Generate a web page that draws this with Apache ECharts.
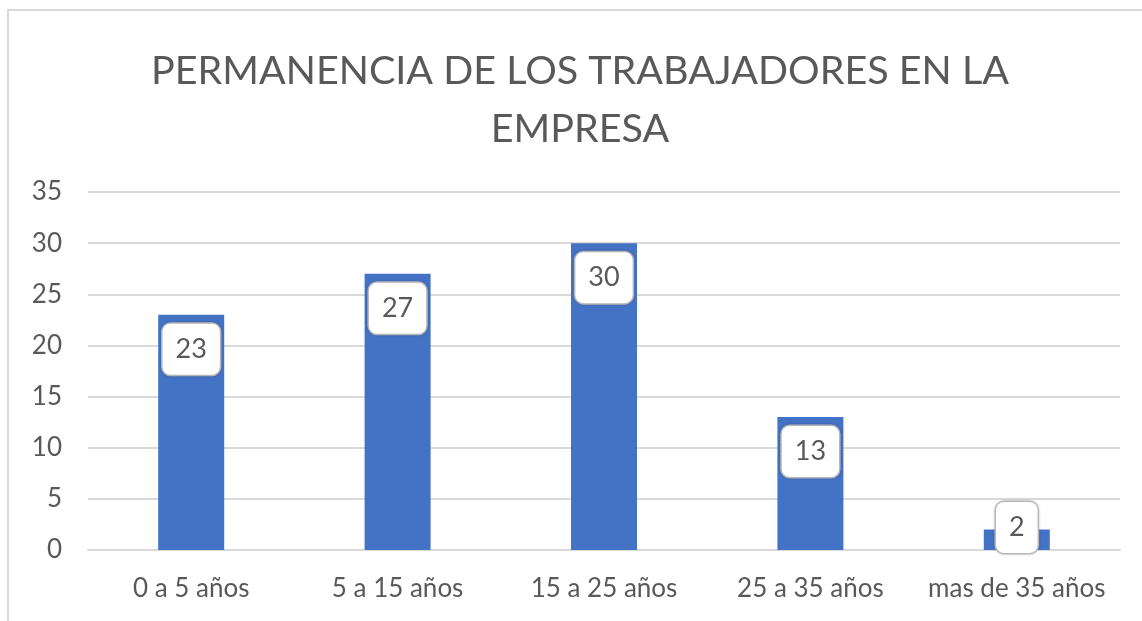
<!DOCTYPE html>
<html>
<head>
<meta charset="utf-8">
<script src="https://cdn.jsdelivr.net/npm/echarts@6/dist/echarts.min.js"></script>
<style>
  html, body { margin: 0; padding: 0; background: #fff; }
  #chart { width: 1142px; height: 621px; }
</style>
</head>
<body>
<div id="chart"></div>
<script>
var categories = ['0 a 5 años', '5 a 15 años', '15 a 25 años', '25 a 35 años', 'mas de 35 años'];
var trabajadores = [23, 27, 30, 13, 2];
var yTicks = [0, 5, 10, 15, 20, 25, 30, 35];

var textGray = '#595959';
var font = 'Lato';

// small bar: Excel pushes the label down onto the axis
var barData = trabajadores.map(function (v) {
    if (v < 5) {
        return { value: v, label: { position: 'insideBottom', distance: -3 } };
    }
    return v;
});

var myChart = echarts.init(document.getElementById('chart'));
var option = {
    backgroundColor: '#fff',
    animation: false,
    title: {
        text: 'PERMANENCIA DE LOS TRABAJADORES EN LA\nEMPRESA',
        left: 575,
        top: 37,
        textAlign: 'center',
        textStyle: {
            color: textGray,
            fontFamily: font,
            fontSize: 39.5,
            fontWeight: 'normal',
            lineHeight: 58
        }
    },
    graphic: [{
        type: 'rect',
        shape: { x: 8, y: 10, width: 1200, height: 700 },
        style: { fill: 'none', stroke: '#d9d9d9', lineWidth: 2 },
        silent: true
    }],
    grid: {
        left: 88,
        right: 22,
        top: 192,
        bottom: 71
    },
    xAxis: {
        type: 'category',
        data: categories,
        axisTick: { show: false },
        axisLine: { lineStyle: { color: '#d9d9d9', width: 2 } },
        axisLabel: {
            interval: 0,
            color: textGray,
            fontFamily: font,
            fontSize: 26,
            margin: 26
        }
    },
    yAxis: {
        type: 'value',
        min: yTicks[0],
        max: yTicks[yTicks.length - 1],
        interval: 5,
        axisLine: { show: false },
        axisTick: { show: false },
        splitLine: { lineStyle: { color: '#d9d9d9', width: 2 } },
        axisLabel: {
            color: textGray,
            fontFamily: font,
            fontSize: 26,
            margin: 26
        }
    },
    series: [{
        name: 'Trabajadores',
        type: 'bar',
        data: barData,
        barWidth: 66,
        itemStyle: { color: '#4472c4' },
        label: {
            show: true,
            position: 'insideTop',
            distance: 9,
            color: textGray,
            fontFamily: font,
            fontSize: 27,
            lineHeight: 29,
            backgroundColor: '#fff',
            borderColor: '#bfbfbf',
            borderWidth: 1.5,
            borderRadius: 8,
            padding: [11, 13],
            shadowColor: 'rgba(0,0,0,0.15)',
            shadowBlur: 3
        }
    }]
};
myChart.setOption(option);
</script>
</body>
</html>
